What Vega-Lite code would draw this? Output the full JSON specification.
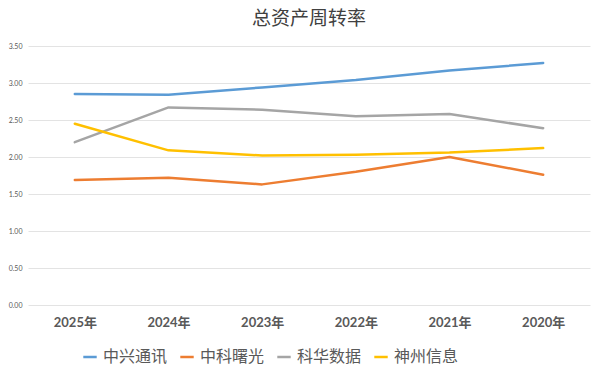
{
  "$schema": "https://vega.github.io/schema/vega-lite/v6.json",
  "autosize": "none",
  "width": 562,
  "height": 259,
  "padding": {"left": 28, "top": 46, "right": 10, "bottom": 75},
  "background": "white",
  "title": {
    "text": "总资产周转率",
    "font": "Noto Sans CJK SC",
    "fontSize": 19,
    "fontWeight": "normal",
    "color": "#404040",
    "anchor": "middle",
    "offset": 13
  },
  "data": {
    "values": [
      {"year": "2025年", "company": "中兴通讯", "value": 2.85},
      {"year": "2024年", "company": "中兴通讯", "value": 2.84},
      {"year": "2023年", "company": "中兴通讯", "value": 2.94},
      {"year": "2022年", "company": "中兴通讯", "value": 3.04},
      {"year": "2021年", "company": "中兴通讯", "value": 3.17},
      {"year": "2020年", "company": "中兴通讯", "value": 3.27},
      {"year": "2025年", "company": "中科曙光", "value": 1.69},
      {"year": "2024年", "company": "中科曙光", "value": 1.72},
      {"year": "2023年", "company": "中科曙光", "value": 1.63},
      {"year": "2022年", "company": "中科曙光", "value": 1.80},
      {"year": "2021年", "company": "中科曙光", "value": 2.00},
      {"year": "2020年", "company": "中科曙光", "value": 1.76},
      {"year": "2025年", "company": "科华数据", "value": 2.20},
      {"year": "2024年", "company": "科华数据", "value": 2.67},
      {"year": "2023年", "company": "科华数据", "value": 2.64},
      {"year": "2022年", "company": "科华数据", "value": 2.55},
      {"year": "2021年", "company": "科华数据", "value": 2.58},
      {"year": "2020年", "company": "科华数据", "value": 2.39},
      {"year": "2025年", "company": "神州信息", "value": 2.45},
      {"year": "2024年", "company": "神州信息", "value": 2.09},
      {"year": "2023年", "company": "神州信息", "value": 2.02},
      {"year": "2022年", "company": "神州信息", "value": 2.03},
      {"year": "2021年", "company": "神州信息", "value": 2.06},
      {"year": "2020年", "company": "神州信息", "value": 2.12}
    ]
  },
  "mark": {"type": "line", "strokeWidth": 2.5, "strokeCap": "round", "strokeJoin": "round"},
  "encoding": {
    "x": {
      "field": "year",
      "type": "ordinal",
      "sort": ["2025年", "2024年", "2023年", "2022年", "2021年", "2020年"],
      "scale": {"type": "point", "padding": 0.5},
      "axis": {
        "title": null,
        "labelAngle": 0,
        "domain": false,
        "ticks": false,
        "grid": false,
        "labelFont": "Lato, Noto Sans CJK SC",
        "labelFontSize": 13,
        "labelFontWeight": "bold",
        "labelColor": "#595959",
        "labelPadding": 11
      }
    },
    "y": {
      "field": "value",
      "type": "quantitative",
      "scale": {"domain": [0, 3.5], "nice": false},
      "axis": {
        "title": null,
        "values": [0, 0.5, 1, 1.5, 2, 2.5, 3, 3.5],
        "format": ".2f",
        "domain": false,
        "ticks": false,
        "gridColor": "#e3e3e3",
        "gridWidth": 1,
        "labelFont": "Lato",
        "labelFontSize": 7,
        "labelColor": "#595959",
        "labelPadding": 6
      }
    },
    "color": {
      "field": "company",
      "type": "nominal",
      "scale": {
        "domain": ["中兴通讯", "中科曙光", "科华数据", "神州信息"],
        "range": ["#5B9BD5", "#ED7D31", "#A5A5A5", "#FFC000"]
      },
      "legend": {
        "title": null,
        "orient": "none",
        "legendX": 54,
        "legendY": 303,
        "direction": "horizontal",
        "symbolType": "stroke",
        "symbolStrokeWidth": 2.5,
        "symbolSize": 180,
        "labelFont": "Noto Sans CJK SC",
        "labelFontSize": 16,
        "labelColor": "#595959",
        "columnPadding": 7,
        "symbolOffset": 0,
        "labelOffset": 5
      }
    }
  },
  "config": {"view": {"stroke": null}}
}
